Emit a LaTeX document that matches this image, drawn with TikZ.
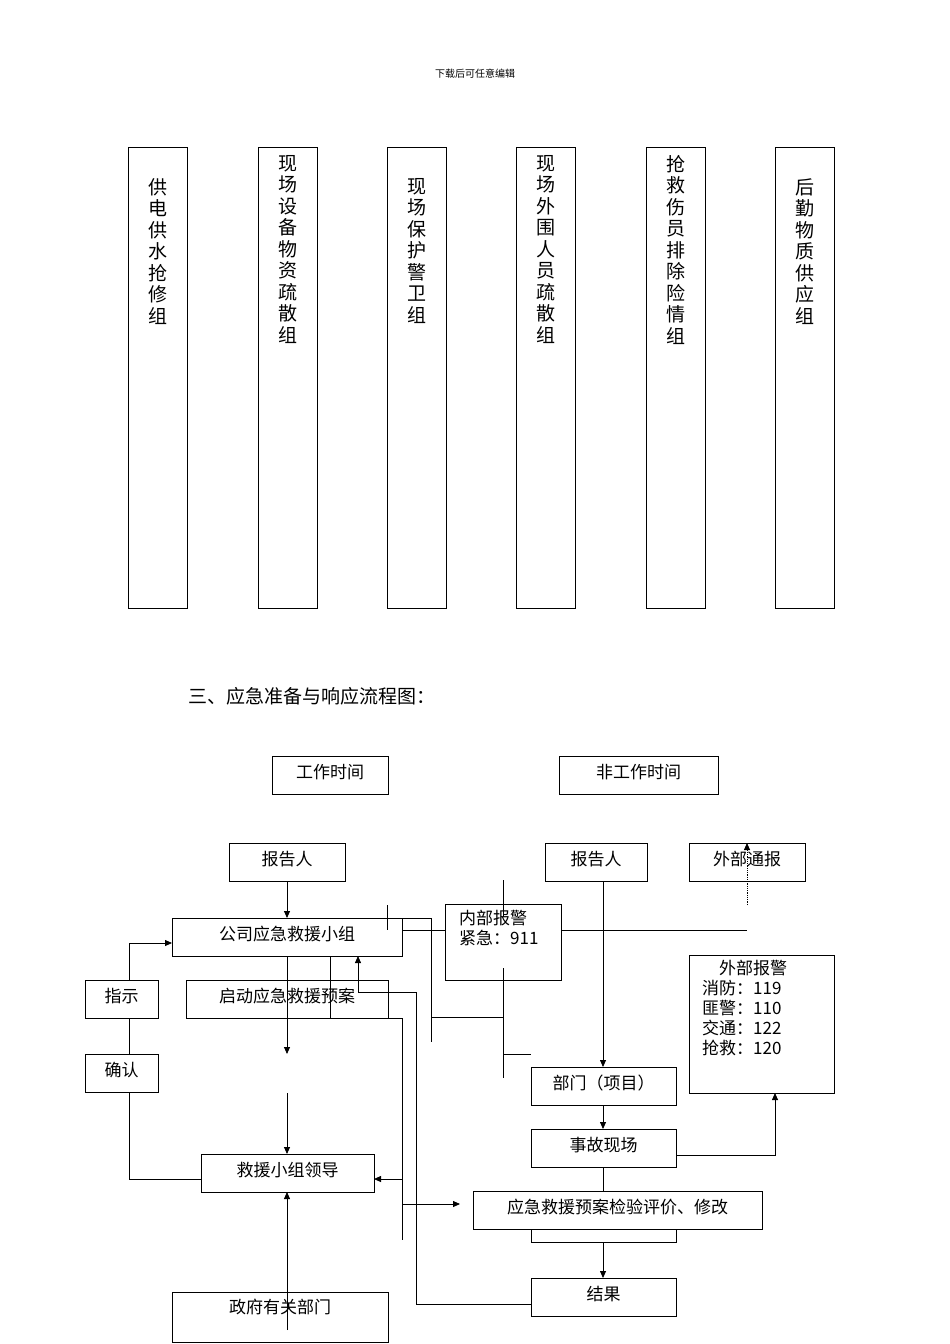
\documentclass[tikz,border=0pt]{standalone}
\usepackage{fontspec}
\setmainfont{Liberation Serif}
\newfontfamily\cjk{Noto Sans CJK SC}
\usetikzlibrary{arrows.meta}
\begin{document}
\begin{tikzpicture}[x=1pt,y=-1pt,
  bx/.style={draw,line width=0.8pt},
  ln/.style={line width=0.8pt},
  ar/.style={line width=0.8pt,-{Triangle[length=7pt,width=6pt]}},
  t/.style={font=\cjk\fontsize{17}{20}\selectfont,inner sep=0pt},
  col/.style={font=\cjk\fontsize{19}{21.5}\selectfont,align=center,inner sep=0pt,anchor=north}]
\useasboundingbox (0,0) rectangle (950,1344);
\node[font=\cjk\fontsize{10}{12}\selectfont] (hd) at (475,74) {下载后可任意编辑};
% columns
\foreach \x/\y/\s [count=\i] in {128/178/供\\电\\供\\水\\抢\\修\\组, 258/155/现\\场\\设\\备\\物\\资\\疏\\散\\组, 387/178/现\\场\\保\\护\\警\\卫\\组, 516/155/现\\场\\外\\围\\人\\员\\疏\\散\\组, 646/155/抢\\救\\伤\\员\\排\\除\\险\\情\\组, 775/178/后\\勤\\物\\质\\供\\应\\组}{
  \draw[bx] (\x,147) rectangle (\x+59,608);
  \node[col] (c\i) at (\x+29.5,\y) {\s};
}
\node[font=\cjk\fontsize{19}{22}\selectfont,anchor=west,inner sep=0pt] (title) at (188,696) {三、应急准备与响应流程图：};
% boxes
\newcommand{\bxx}[6]{\draw[bx] (#2,#3) rectangle (#4,#5); \node[t] (#1) at ({(#2+#4)/2},{(#3+#5)/2-3}) {#6};}
\bxx{gz}{272}{756}{388}{794}{工作时间}
\bxx{fgz}{559}{756}{718}{794}{非工作时间}
\bxx{bgl}{229}{843}{345}{881}{报告人}
\bxx{bgr}{545}{843}{647}{881}{报告人}
\bxx{wbtb}{689}{843}{805}{881}{外部通报}
\bxx{gs}{172}{918}{402}{956}{公司应急救援小组}
\draw[bx] (445,904) rectangle (561,980);
\node[t,align=left,anchor=north west] (nb) at (459,910) {内部报警\\紧急：911};
\bxx{zs}{85}{980}{158}{1018}{指示}
\bxx{qd}{186}{980}{388}{1018}{启动应急救援预案}
\bxx{qr}{85}{1054}{158}{1092}{确认}
\draw[bx] (689,955) rectangle (834,1093);
\node[t,align=left,anchor=north west] (wb) at (702,960) {\hspace*{1em}外部报警\\消防：119\\匪警：110\\交通：122\\抢救：120};
\bxx{bm}{531}{1067}{676}{1105}{部门（项目）}
\bxx{sg}{531}{1129}{676}{1167}{事故现场}
\bxx{jy}{201}{1154}{374}{1192}{救援小组领导}
\bxx{yj}{473}{1191}{762}{1229}{应急救援预案检验评价、修改}
\draw[bx] (531,1229) rectangle (676,1242);
\bxx{jg}{531}{1278}{676}{1316}{结果}
\draw[bx] (172,1292) rectangle (388,1342);
\node[t] (zf) at (280,1307) {政府有关部门};
% connectors
\draw[ar] (287,881) -- (287,918);
\draw[ar] (129,980) -- (129,943) -- (172,943);
\draw[ln] (129,1018) -- (129,1054);
\draw[ln] (129,1092) -- (129,1179) -- (201,1179);
\draw[ar] (287,956) -- (287,1054);
\draw[ar] (287,1093) -- (287,1154);
\draw[ln] (387,905) -- (387,930);
\draw[ln] (402,918) -- (431,918) -- (431,1042);
\draw[ln] (431,1017) -- (503,1017);
\draw[ln] (402,930) -- (445,930);
\draw[ln] (503,880) -- (503,917);
\draw[ln] (503,968) -- (503,1078);
\draw[ln] (503,1054) -- (531,1054);
\draw[ln] (561,930) -- (747,930);
\draw[ar,densely dotted] (747,905) -- (747,843);
\draw[ar] (603,881) -- (603,1067);
\draw[ln] (330,956) -- (330,1018) -- (402,1018) -- (402,1240);
\draw[ar] (402,1179) -- (374,1179);
\draw[ar] (402,1204) -- (460,1204);
\draw[ar] (358,992) -- (358,956);
\draw[ln] (358,992) -- (416,992) -- (416,1304) -- (531,1304);
\draw[ar] (603,1105) -- (603,1129);
\draw[ar] (676,1155) -- (775,1155) -- (775,1093);
\draw[ln] (603,1167) -- (603,1191);
\draw[ar] (603,1242) -- (603,1278);
\draw[ar] (287,1330) -- (287,1192);
\end{tikzpicture}
\end{document}
